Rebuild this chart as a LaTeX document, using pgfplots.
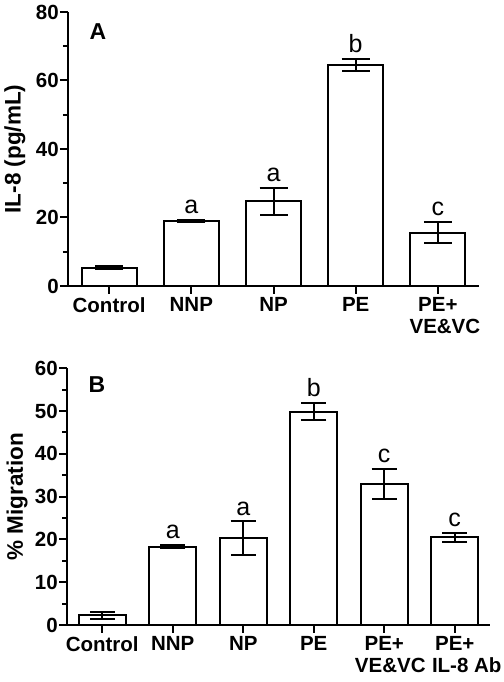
\documentclass[border=0pt]{standalone}
\usepackage{pgfplots}
\usepackage{pgfplotstable}
\pgfplotsset{compat=1.18}
\usepackage{fontspec}
\setmainfont{Liberation Sans}

\pgfplotstableread{
x y e
0 5.3 0.4
1 19.0 0.3
2 24.7 4.0
3 64.6 1.8
4 15.6 3.0
}\dataA
\pgfplotstableread{
x y l
1 19.3 a
2 28.7 a
3 66.4 b
4 18.6 c
}\letA
\pgfplotstableread{
x y e
0 2.3 0.8
1 18.3 0.3
2 20.3 3.9
3 49.9 1.9
4 33.0 3.5
5 20.5 1.0
}\dataB
\pgfplotstableread{
x y l
1 18.6 a
2 24.2 a
3 51.8 b
4 36.5 c
5 21.5 c
}\letB

\pgfplotsset{
  myax/.style={
    scale only axis,
    axis x line*=bottom, axis y line*=left,
    axis line style={-, line width=2pt},
    tick align=outside,
    every tick/.style={black, line width=2pt},
    major tick length=8pt, minor tick length=5pt,
    enlargelimits=false, clip=false,
    ticklabel style={font=\fontsize{20.5}{22}\selectfont\bfseries, inner sep=1pt},
    /pgf/number format/assume math mode=true,
    xticklabel style={align=center, yshift=-2pt},
    ylabel style={font=\fontsize{22.5}{24}\selectfont\bfseries, anchor=center},
  },
  mybar/.style={
    ybar, bar width=0.67, bar shift=0pt, fill=white, draw=black, line width=2pt,
    error bars/.cd, y dir=both, y explicit,
    error bar style={line width=2pt, black},
    error mark options={line width=2pt, black, rotate=90, mark size=#1},
  },
  mylet/.style={
    draw=none, mark=none, nodes near coords, point meta=explicit symbolic,
    nodes near coords style={font=\fontsize{25}{27}\selectfont, anchor=south, inner sep=0pt, yshift=6pt},
  },
}

\begin{document}
\begin{tikzpicture}
\useasboundingbox (0,0) rectangle (503pt,682pt);
% Panel A
\begin{axis}[myax,
  at={(68pt,396pt)}, anchor=south west,
  width=411pt, height=274pt,
  xmin=-0.5, xmax=4.5, ymin=0, ymax=80,
  ytick={0,20,40,60,80}, minor ytick={10,30,50,70},
  xtick={0,1,2,3,4},
  xticklabels={Control, NNP, NP, PE, {PE+\\\hspace*{14pt}VE\&VC}},
  ylabel={IL-8 (pg/mL)},
  ylabel style={at={(axis description cs:-0.129,0.5)}},
]
\addplot[mybar=14pt] table[x=x, y=y, y error=e] {\dataA};
\addplot[mylet] table[x=x, y=y, meta=l] {\letA};
\node[font=\fontsize{23}{25}\selectfont\bfseries] at (rel axis cs:0.073,0.927) {A};
\end{axis}
% Panel B
\begin{axis}[myax,
  at={(67pt,57pt)}, anchor=south west,
  width=423pt, height=256.7pt,
  xmin=-0.5, xmax=5.5, ymin=0, ymax=60,
  ytick={0,10,...,60}, minor ytick={5,15,...,55},
  xtick={0,1,2,3,4,5},
  xticklabels={Control, NNP, NP, PE, {PE+\\\hspace*{12pt}VE\&VC}, {PE+\\\hspace*{24pt}IL-8 Ab}},
  ylabel={\% Migration},
  ylabel style={at={(axis description cs:-0.118,0.5)}},
]
\addplot[mybar=12.5pt] table[x=x, y=y, y error=e] {\dataB};
\addplot[mylet] table[x=x, y=y, meta=l] {\letB};
\node[font=\fontsize{23}{25}\selectfont\bfseries] at (rel axis cs:0.071,0.935) {B};
\end{axis}
\end{tikzpicture}
\end{document}
